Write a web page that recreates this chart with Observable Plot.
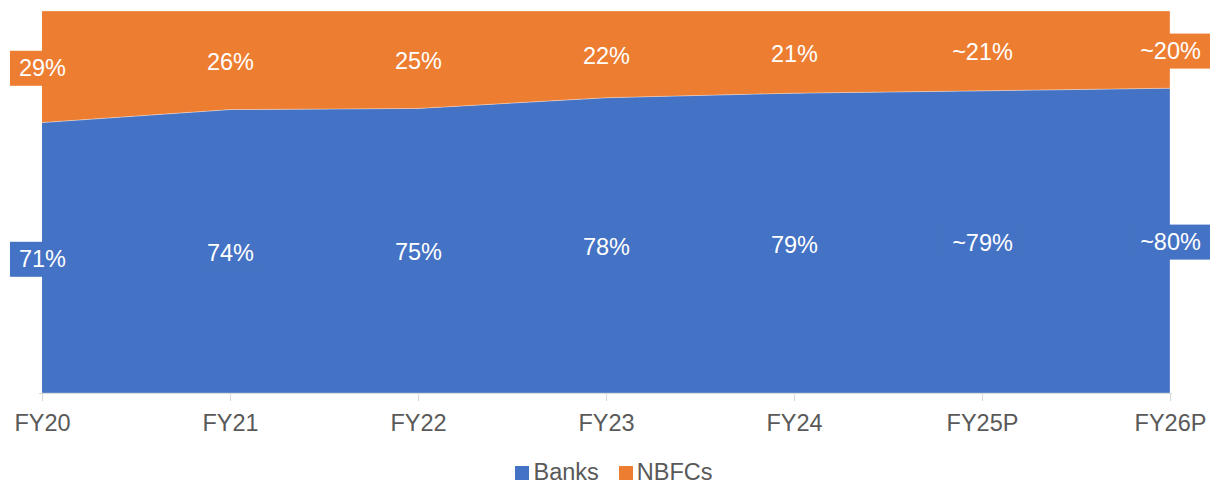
<!DOCTYPE html>
<html>
<head>
<meta charset="utf-8">
<script src="https://cdn.jsdelivr.net/npm/d3@7"></script>
<script src="https://cdn.jsdelivr.net/npm/@observablehq/plot@0.6"></script>
<style>
  html, body { margin: 0; padding: 0; background: #fff; }
  body { width: 1215px; height: 484px; overflow: hidden; font-family: "Liberation Sans", Arial, sans-serif; }
  #legend { display: flex; justify-content: center; align-items: center; height: 24px; padding-left: 13px; font-size: 23.5px; line-height: 24px; color: #595959; }
  #legend .item { display: flex; align-items: center; margin: 0 10px; }
  #legend .sw { width: 14px; height: 14px; margin-right: 4px; margin-top: 2px; }
</style>
</head>
<body>
<div id="chart"></div>
<div id="legend"></div>
<script>
const years = ["FY20", "FY21", "FY22", "FY23", "FY24", "FY25P", "FY26P"];
const seriesNames = ["Banks", "NBFCs"];
const seriesColors = ["#4472C4", "#ED7D31"];
const banks = [70.8, 74.2, 74.5, 77.3, 78.5, 79.1, 79.8];
const nbfcs = [29.2, 25.8, 25.5, 22.7, 21.5, 20.9, 20.2];
const banksLabels = ["71%", "74%", "75%", "78%", "79%", "~79%", "~80%"];
const nbfcsLabels = ["29%", "26%", "25%", "22%", "21%", "~21%", "~20%"];

const data = [];
years.forEach((y, i) => data.push({year: y, series: "Banks", value: banks[i], label: banksLabels[i]}));
years.forEach((y, i) => data.push({year: y, series: "NBFCs", value: nbfcs[i], label: nbfcsLabels[i]}));

const font = "'Liberation Sans', Arial, sans-serif";

const chart = Plot.plot({
  width: 1215,
  height: 460,
  marginLeft: 39,
  marginRight: 43,
  marginTop: 11,
  marginBottom: 67,
  style: {fontFamily: font, background: "white"},
  x: {type: "point", domain: years, padding: 0, label: null},
  y: {domain: [0, 100], axis: null},
  color: {domain: seriesNames, range: seriesColors},
  marks: [
    Plot.areaY(data, {x: "year", y: "value", z: "series", fill: "series", stroke: "white", strokeWidth: 0.6, strokeOpacity: 0.5}),
    Plot.ruleY([0], {stroke: "#d9d9d9", strokeWidth: 1}),
    Plot.axisX({tickSize: 8, tickPadding: 13, fontSize: 23.5, stroke: "#d9d9d9", fill: "#595959", label: null}),
    Plot.text(data, Plot.stackY({x: "year", y: "value", z: "series", text: "label", fill: "white", fontSize: 23.5, dy: 1.5, className: "lbl"}))
  ]
});
document.getElementById("chart").appendChild(chart);
chart.style.display = "block";

// background boxes behind the value labels
const g = chart.querySelector("g.lbl");
if (g) {
  const texts = g.querySelectorAll("text");
  texts.forEach((t, i) => {
    const bb = t.getBBox();
    const r = document.createElementNS("http://www.w3.org/2000/svg", "rect");
    const px = 9, py = 4.5;
    r.setAttribute("x", bb.x - px);
    r.setAttribute("y", bb.y - py);
    r.setAttribute("width", bb.width + 2 * px);
    r.setAttribute("height", bb.height + 2 * py);
    const s = data[i] ? data[i].series : "Banks";
    r.setAttribute("fill", seriesColors[seriesNames.indexOf(s)]);
    if (t.getAttribute("transform")) r.setAttribute("transform", t.getAttribute("transform"));
    t.parentNode.insertBefore(r, t);
  });
}

const legend = document.getElementById("legend");
seriesNames.forEach((n, i) => {
  const it = document.createElement("div");
  it.className = "item";
  const sw = document.createElement("div");
  sw.className = "sw";
  sw.style.background = seriesColors[i];
  const tx = document.createElement("span");
  tx.textContent = n;
  it.appendChild(sw);
  it.appendChild(tx);
  legend.appendChild(it);
});
</script>
</body>
</html>
